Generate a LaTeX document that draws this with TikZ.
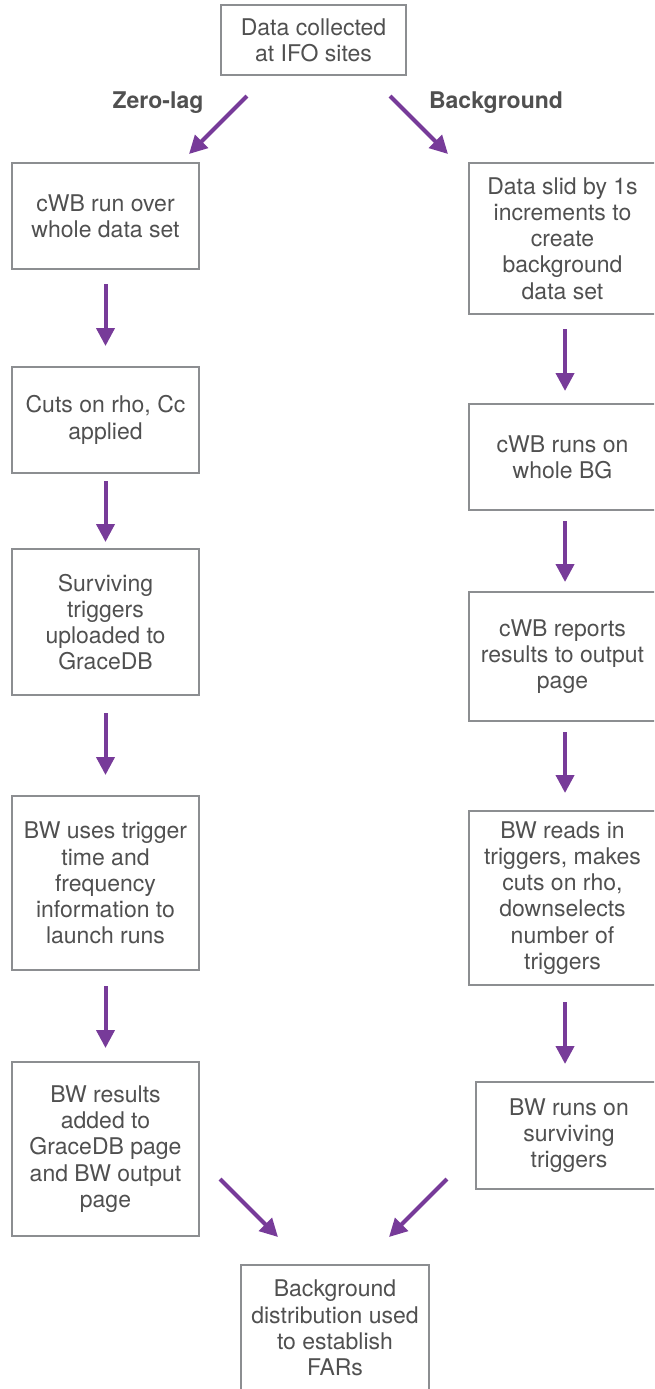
\documentclass[tikz,border=0pt]{standalone}
\usepackage{fontspec}
\setmainfont{TeX Gyre Heros}
\usetikzlibrary{arrows.meta}
\definecolor{flowpurple}{RGB}{119,59,153}
\definecolor{boxgray}{RGB}{140,142,145}
\definecolor{textgray}{RGB}{80,80,80}
\tikzset{every node/.style={ % text in all nodes
           align=center,
           text=textgray,
           font=\fontsize{17.25}{19.65}\selectfont},
         stage/.style={      % one box of the pipeline
           draw=boxgray,
           line width=1.5pt,
           minimum width=140.25pt,
           inner sep=0pt},
         branch/.style={     % bold label over a branch
           font=\fontsize{17.25}{19.65}\selectfont\bfseries},
         flow/.style={       % purple arrows
           draw=flowpurple,
           line width=3pt,
           -{Triangle[length=13.5pt,width=13.5pt]}}}

\begin{document}
\begin{tikzpicture}[x=0.75pt,y=-0.75pt]
  \useasboundingbox (0,0) rectangle (654,1389);
  \clip (0,0) rectangle (654,1389);

  \node [stage, minimum width=138.75pt, minimum height=52.5pt] (collect) at (313.5,40) {Data collected\\at IFO sites};

  % zero-lag branch
  \node [stage, minimum height=79.5pt]  (zlrun)     at (105.5,216)  {cWB run over\\whole data set};
  \node [stage, minimum height=79.5pt]  (zlcuts)    at (105.5,420)  {Cuts on rho, Cc\\applied};
  \node [stage, minimum height=109.5pt] (zlupload)  at (105.5,622)  {Surviving\\triggers\\uploaded to\\GraceDB};
  \node [stage, minimum height=130.5pt] (zllaunch)  at (105.5,883)  {BW uses trigger\\time and\\frequency\\information to\\launch runs};
  \node [stage, minimum height=130.5pt] (zlresults) at (105.5,1149) {BW results\\added to\\GraceDB page\\and BW output\\page};

  % background branch
  \node [stage, minimum height=113.25pt] (bgslide)  at (562.5,238.5) {Data slid by 1s\\increments to\\create\\background\\data set};
  \node [stage, minimum height=79.5pt]   (bgrun)    at (562.5,457)   {cWB runs on\\whole BG};
  \node [stage, minimum height=96.75pt]  (bgreport) at (562.5,656.5) {cWB reports\\results to output\\page};
  \node [stage, minimum height=130.5pt]  (bgread)   at (562.5,898)   {BW reads in\\triggers, makes\\cuts on rho,\\downselects\\number of\\triggers};
  \node [stage, minimum height=80.25pt]  (bgbw)     at (569,1135.5)  {BW runs on\\surviving\\triggers};

  \node [stage, minimum width=141pt, minimum height=95pt] (far) at (335,1328) {Background\\distribution used\\to establish\\FARs};

  \node [branch] (zerolag) at (158,103) {Zero-lag};
  \node [branch] (backgr)  at (496,103) {Background};

  \coordinate (zlfrom) at (247,96);
  \coordinate (zlto)   at (189,154);
  \coordinate (bgfrom) at (390,96);
  \coordinate (bgto)   at (448,154);
  \coordinate (zlend)  at (220,1179);
  \coordinate (bgend)  at (447,1179);
  \coordinate (farl)   at (278,1237);
  \coordinate (farr)   at (389,1237);

  \draw [flow] (zlfrom) -- (zlto);
  \draw [flow] (bgfrom) -- (bgto);

  \draw [flow, shorten <=10.5pt, shorten >=15pt]   (zlrun.south)    -- (zlrun.south |- zlcuts.north);
  \draw [flow, shorten <=5.25pt, shorten >=4.5pt]  (zlcuts.south)   -- (zlcuts.south |- zlupload.north);
  \draw [flow, shorten <=12.75pt, shorten >=15pt]  (zlupload.south) -- (zlupload.south |- zllaunch.north);
  \draw [flow, shorten <=11.25pt, shorten >=9.75pt] (zllaunch.south) -- (zllaunch.south |- zlresults.north);

  \draw [flow, shorten <=10.5pt, shorten >=9pt]    ([xshift=1.9pt]bgslide.south)  -- ([xshift=1.9pt]bgslide.south |- bgrun.north);
  \draw [flow, shorten <=7.5pt, shorten >=6.75pt]  ([xshift=1.9pt]bgrun.south)    -- ([xshift=1.9pt]bgrun.south |- bgreport.north);
  \draw [flow, shorten <=7.5pt, shorten >=12.75pt] ([xshift=1.9pt]bgreport.south) -- ([xshift=1.9pt]bgreport.south |- bgread.north);
  \draw [flow, shorten <=12pt, shorten >=12.75pt]  ([xshift=1.9pt]bgread.south)   -- ([xshift=1.9pt]bgread.south |- bgbw.north);

  \draw [flow] (zlend) -- (farl);
  \draw [flow] (bgend) -- (farr);

\end{tikzpicture}
\end{document}
